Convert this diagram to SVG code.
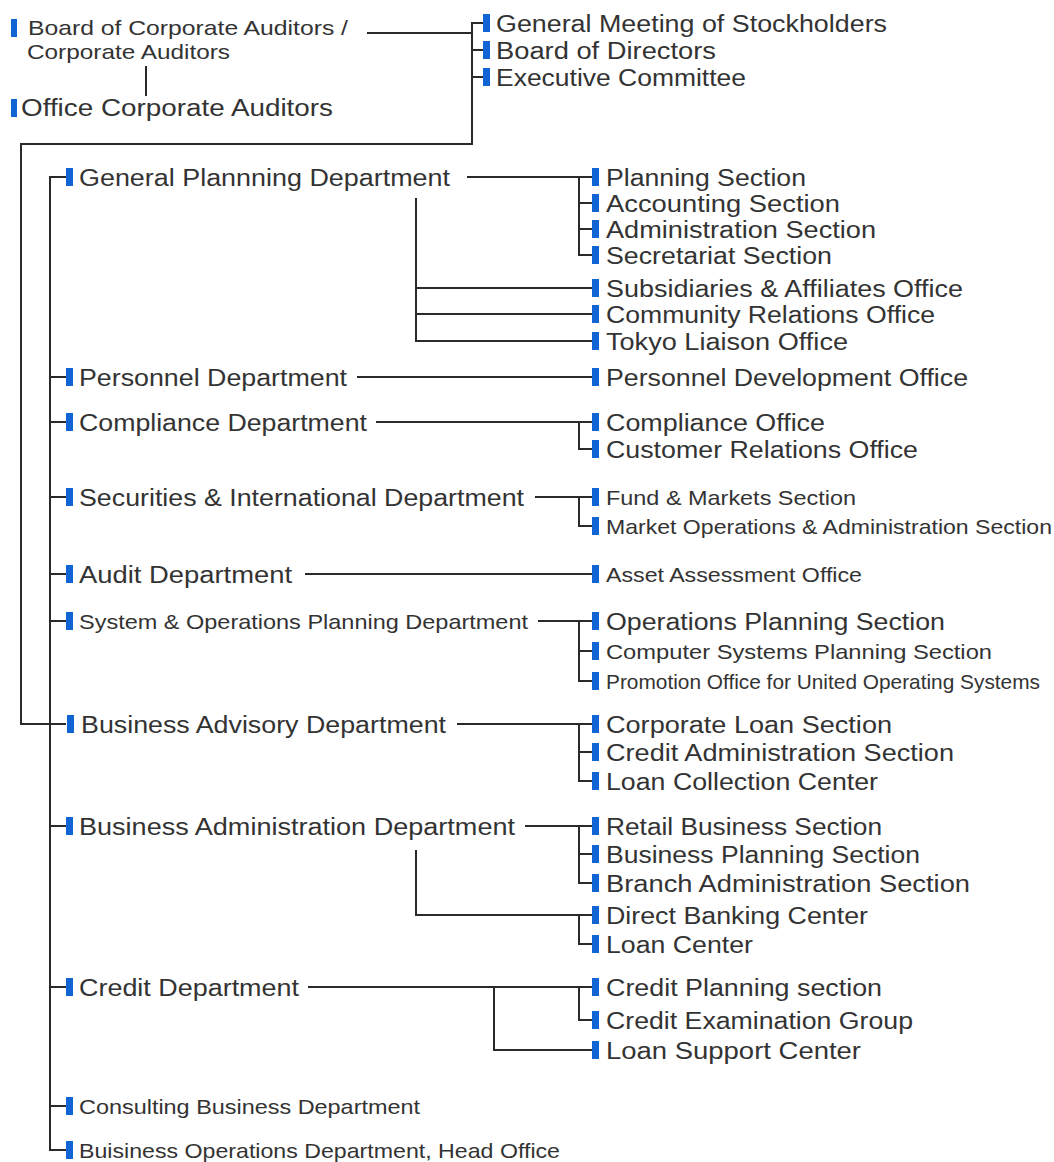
<svg xmlns="http://www.w3.org/2000/svg" width="1054" height="1162" viewBox="0 0 1054 1162">
<style>
.m{fill:#1064d4}
.t{font-family:"Liberation Sans",Arial,sans-serif;font-size:23px;fill:#333}
.s{font-size:21px}
.c{stroke:#2a2a2a;stroke-width:2;fill:none}
</style>
<rect width="1054" height="1162" fill="#fff"/>
<g id="connectors" class="c">
<path d="M367,33H472"/>
<path d="M146,66V96"/>
<path d="M483,23H472V144H21V724H66"/>
<path d="M472,50H483M472,77H483"/>
<path d="M66,177H50V1150H66"/>
<path d="M50,377H66M50,422H66M50,497H66M50,574H66M50,621H66M50,826H66M50,987H66M50,1106H66"/>
<path d="M467,177H592M579,177V255H592M579,203H592M579,229H592"/>
<path d="M416,198V341H592M416,288H592M416,314H592"/>
<path d="M357,377H592"/>
<path d="M376,422H592M579,422V449H592"/>
<path d="M535,497H592M579,497V526H592"/>
<path d="M305,574H592"/>
<path d="M538,621H592M579,621V681H592M579,651H592"/>
<path d="M457,724H592M579,724V781H592M579,752H592"/>
<path d="M525,826H592M579,826V883H592M579,854H592"/>
<path d="M416,850V915H592M579,915V944H592"/>
<path d="M308,987H592M579,987V1020H592M494,987V1050H592"/>
</g>
<g id="n-board-auditors"><rect class="m" x="11" y="19" width="6" height="18"/><text class="t s" x="28" y="35" textLength="320" lengthAdjust="spacingAndGlyphs">Board of Corporate Auditors /</text><text class="t s" x="27" y="59" textLength="203" lengthAdjust="spacingAndGlyphs">Corporate Auditors</text></g>
<g id="n-office-auditors"><rect class="m" x="11" y="99" width="6" height="18"/><text class="t" x="21" y="116" textLength="312" lengthAdjust="spacingAndGlyphs">Office Corporate Auditors</text></g>
<g id="n-gms"><rect class="m" x="483" y="14" width="7" height="18"/><text class="t" x="496" y="32" textLength="391" lengthAdjust="spacingAndGlyphs">General Meeting of Stockholders</text></g>
<g id="n-bod"><rect class="m" x="483" y="41" width="7" height="18"/><text class="t" x="496" y="59" textLength="220" lengthAdjust="spacingAndGlyphs">Board of Directors</text></g>
<g id="n-exec"><rect class="m" x="483" y="68" width="7" height="18"/><text class="t" x="496" y="86" textLength="250" lengthAdjust="spacingAndGlyphs">Executive Committee</text></g>

<g id="d-general-planning"><rect class="m" x="66" y="168" width="7" height="18"/><text class="t" x="79" y="186" textLength="371" lengthAdjust="spacingAndGlyphs">General Plannning Department</text></g>
<g id="d-personnel"><rect class="m" x="66" y="368" width="7" height="18"/><text class="t" x="79" y="386" textLength="268" lengthAdjust="spacingAndGlyphs">Personnel Department</text></g>
<g id="d-compliance"><rect class="m" x="66" y="413" width="7" height="18"/><text class="t" x="79" y="431" textLength="288" lengthAdjust="spacingAndGlyphs">Compliance Department</text></g>
<g id="d-securities"><rect class="m" x="66" y="488" width="7" height="18"/><text class="t" x="79" y="506" textLength="445" lengthAdjust="spacingAndGlyphs">Securities &amp; International Department</text></g>
<g id="d-audit"><rect class="m" x="66" y="565" width="7" height="18"/><text class="t" x="79" y="583" textLength="213" lengthAdjust="spacingAndGlyphs">Audit Department</text></g>
<g id="d-system"><rect class="m" x="66" y="612" width="7" height="18"/><text class="t s" x="79" y="629" textLength="449" lengthAdjust="spacingAndGlyphs">System &amp; Operations Planning Department</text></g>
<g id="d-business-advisory"><rect class="m" x="67" y="715" width="7" height="18"/><text class="t" x="81" y="733" textLength="365" lengthAdjust="spacingAndGlyphs">Business Advisory Department</text></g>
<g id="d-business-admin"><rect class="m" x="66" y="817" width="7" height="18"/><text class="t" x="79" y="835" textLength="436" lengthAdjust="spacingAndGlyphs">Business Administration Department</text></g>
<g id="d-credit"><rect class="m" x="66" y="978" width="7" height="18"/><text class="t" x="79" y="996" textLength="220" lengthAdjust="spacingAndGlyphs">Credit Department</text></g>
<g id="d-consulting"><rect class="m" x="66" y="1097" width="7" height="18"/><text class="t s" x="79" y="1114" textLength="341" lengthAdjust="spacingAndGlyphs">Consulting Business Department</text></g>
<g id="d-operations"><rect class="m" x="66" y="1141" width="7" height="18"/><text class="t s" x="79" y="1158" textLength="481" lengthAdjust="spacingAndGlyphs">Buisiness Operations Department, Head Office</text></g>

<g id="s-planning"><rect class="m" x="592" y="168" width="7" height="18"/><text class="t" x="606" y="186" textLength="200" lengthAdjust="spacingAndGlyphs">Planning Section</text></g>
<g id="s-accounting"><rect class="m" x="592" y="194" width="7" height="18"/><text class="t" x="606" y="212" textLength="234" lengthAdjust="spacingAndGlyphs">Accounting Section</text></g>
<g id="s-administration"><rect class="m" x="592" y="220" width="7" height="18"/><text class="t" x="606" y="238" textLength="270" lengthAdjust="spacingAndGlyphs">Administration Section</text></g>
<g id="s-secretariat"><rect class="m" x="592" y="246" width="7" height="18"/><text class="t" x="606" y="264" textLength="226" lengthAdjust="spacingAndGlyphs">Secretariat Section</text></g>
<g id="s-subsidiaries"><rect class="m" x="592" y="279" width="7" height="18"/><text class="t" x="606" y="297" textLength="357" lengthAdjust="spacingAndGlyphs">Subsidiaries &amp; Affiliates Office</text></g>
<g id="s-community"><rect class="m" x="592" y="305" width="7" height="18"/><text class="t" x="606" y="323" textLength="329" lengthAdjust="spacingAndGlyphs">Community Relations Office</text></g>
<g id="s-tokyo"><rect class="m" x="592" y="332" width="7" height="18"/><text class="t" x="606" y="350" textLength="242" lengthAdjust="spacingAndGlyphs">Tokyo Liaison Office</text></g>
<g id="s-personnel-dev"><rect class="m" x="592" y="368" width="7" height="18"/><text class="t" x="606" y="386" textLength="362" lengthAdjust="spacingAndGlyphs">Personnel Development Office</text></g>
<g id="s-compliance-office"><rect class="m" x="592" y="413" width="7" height="18"/><text class="t" x="606" y="431" textLength="219" lengthAdjust="spacingAndGlyphs">Compliance Office</text></g>
<g id="s-customer"><rect class="m" x="592" y="440" width="7" height="18"/><text class="t" x="606" y="458" textLength="312" lengthAdjust="spacingAndGlyphs">Customer Relations Office</text></g>
<g id="s-fund"><rect class="m" x="592" y="488" width="7" height="18"/><text class="t s" x="606" y="505" textLength="250" lengthAdjust="spacingAndGlyphs">Fund &amp; Markets Section</text></g>
<g id="s-market-ops"><rect class="m" x="592" y="517" width="7" height="18"/><text class="t s" x="606" y="534" textLength="446" lengthAdjust="spacingAndGlyphs">Market Operations &amp; Administration Section</text></g>
<g id="s-asset"><rect class="m" x="592" y="565" width="7" height="18"/><text class="t s" x="606" y="582" textLength="256" lengthAdjust="spacingAndGlyphs">Asset Assessment Office</text></g>
<g id="s-ops-planning"><rect class="m" x="592" y="612" width="7" height="18"/><text class="t" x="606" y="630" textLength="339" lengthAdjust="spacingAndGlyphs">Operations Planning Section</text></g>
<g id="s-computer"><rect class="m" x="592" y="642" width="7" height="18"/><text class="t s" x="606" y="659" textLength="386" lengthAdjust="spacingAndGlyphs">Computer Systems Planning Section</text></g>
<g id="s-promotion"><rect class="m" x="592" y="672" width="7" height="18"/><text class="t s" x="606" y="689" textLength="434" lengthAdjust="spacingAndGlyphs">Promotion Office for United Operating Systems</text></g>
<g id="s-corporate-loan"><rect class="m" x="592" y="715" width="7" height="18"/><text class="t" x="606" y="733" textLength="286" lengthAdjust="spacingAndGlyphs">Corporate Loan Section</text></g>
<g id="s-credit-admin"><rect class="m" x="592" y="743" width="7" height="18"/><text class="t" x="606" y="761" textLength="348" lengthAdjust="spacingAndGlyphs">Credit Administration Section</text></g>
<g id="s-loan-collection"><rect class="m" x="592" y="772" width="7" height="18"/><text class="t" x="606" y="790" textLength="272" lengthAdjust="spacingAndGlyphs">Loan Collection Center</text></g>
<g id="s-retail"><rect class="m" x="592" y="817" width="7" height="18"/><text class="t" x="606" y="835" textLength="276" lengthAdjust="spacingAndGlyphs">Retail Business Section</text></g>
<g id="s-business-planning"><rect class="m" x="592" y="845" width="7" height="18"/><text class="t" x="606" y="863" textLength="314" lengthAdjust="spacingAndGlyphs">Business Planning Section</text></g>
<g id="s-branch"><rect class="m" x="592" y="874" width="7" height="18"/><text class="t" x="606" y="892" textLength="364" lengthAdjust="spacingAndGlyphs">Branch Administration Section</text></g>
<g id="s-direct-banking"><rect class="m" x="592" y="906" width="7" height="18"/><text class="t" x="606" y="924" textLength="262" lengthAdjust="spacingAndGlyphs">Direct Banking Center</text></g>
<g id="s-loan-center"><rect class="m" x="592" y="935" width="7" height="18"/><text class="t" x="606" y="953" textLength="147" lengthAdjust="spacingAndGlyphs">Loan Center</text></g>
<g id="s-credit-planning"><rect class="m" x="592" y="978" width="7" height="18"/><text class="t" x="606" y="996" textLength="276" lengthAdjust="spacingAndGlyphs">Credit Planning section</text></g>
<g id="s-credit-exam"><rect class="m" x="592" y="1011" width="7" height="18"/><text class="t" x="606" y="1029" textLength="307" lengthAdjust="spacingAndGlyphs">Credit Examination Group</text></g>
<g id="s-loan-support"><rect class="m" x="592" y="1041" width="7" height="18"/><text class="t" x="606" y="1059" textLength="255" lengthAdjust="spacingAndGlyphs">Loan Support Center</text></g>
</svg>
